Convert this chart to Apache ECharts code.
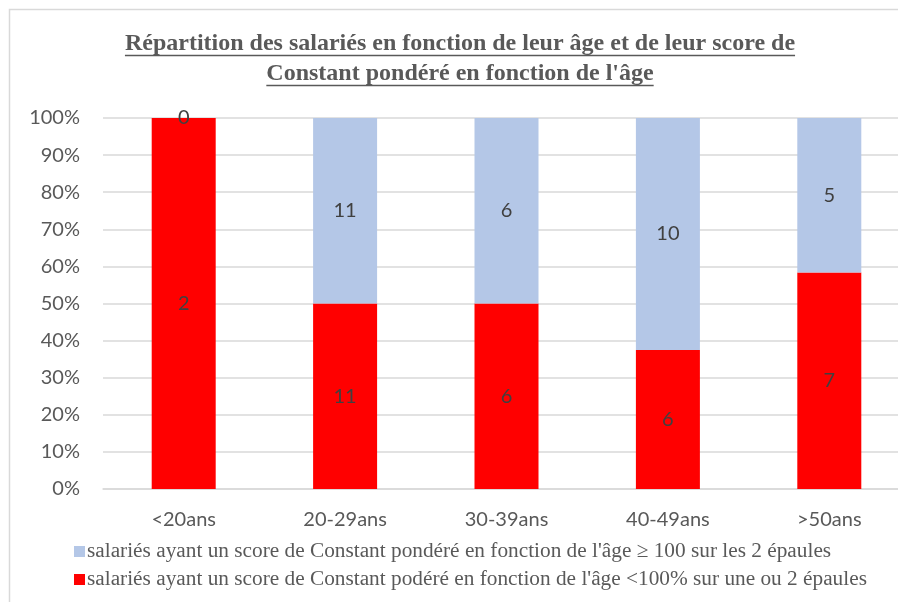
<!DOCTYPE html>
<html>
<head>
<meta charset="utf-8">
<script src="https://cdn.jsdelivr.net/npm/echarts@6/dist/echarts.min.js"></script>
<style>
  html, body { margin: 0; padding: 0; background: #fff; overflow: hidden; }
  #chart { width: 912px; height: 602px; }
</style>
</head>
<body>
<div id="chart"></div>
<script>
const categories = ['<20ans', '20-29ans', '30-39ans', '40-49ans', '>50ans'];
// nombre de salariés par tranche d'âge
const countLow = [2, 11, 6, 6, 7];     // <100% sur une ou 2 épaules
const countHigh = [0, 11, 6, 10, 5];   // >= 100 sur les 2 épaules
const yTicks = [0, 10, 20, 30, 40, 50, 60, 70, 80, 90, 100];

const nameHigh = "salariés ayant un score de Constant pondéré en fonction de l'âge \u2265 100 sur les 2 épaules";
const nameLow = "salariés ayant un score de Constant podéré en fonction de l'âge <100% sur une ou 2 épaules";
const titleLines = [
    "Répartition des salariés en fonction de leur âge et de leur score de",
    "Constant pondéré en fonction de l'âge"
];

// valeurs empilées à 100 %
function pct(a, b) {
    return a.map((v, i) => {
        let tot = a[i] + b[i];
        return tot ? v / tot * 100 : 0;
    });
}
const pctLow = pct(countLow, countHigh);
const pctHigh = pct(countHigh, countLow);

const titleFont = 'bold 24px "Liberation Serif"';
function textWidth(txt, font) {
    let c = document.createElement('canvas').getContext('2d');
    c.font = font;
    return c.measureText(txt).width;
}

let myChart = echarts.init(document.getElementById('chart'), null, { renderer: 'canvas' });

const titleX = 460;
const titleY = [44, 74];
let titleGraphics = [];
titleLines.forEach((t, i) => {
    let w = textWidth(t, titleFont);
    titleGraphics.push({
        type: 'text',
        x: titleX,
        y: titleY[i],
        style: {
            text: t,
            font: titleFont,
            fill: '#595959',
            align: 'center',
            verticalAlign: 'middle'
        }
    });
    titleGraphics.push({
        type: 'line',
        shape: { x1: titleX - w / 2, y1: titleY[i] + 11.5, x2: titleX + w / 2, y2: titleY[i] + 11.5 },
        style: { stroke: '#595959', lineWidth: 1.5 }
    });
});

function labelFor(counts) {
    return {
        show: true,
        position: 'inside',
        fontFamily: 'Lato',
        fontSize: 20,
        color: '#404040',
        formatter: p => counts[p.dataIndex]
    };
}

myChart.setOption({
    animation: false,
    backgroundColor: '#fff',
    graphic: [
        {
            type: 'rect',
            shape: { x: 9.5, y: 9.5, width: 1000, height: 1000 },
            style: { fill: 'none', stroke: '#d9d9d9', lineWidth: 1.5 }
        }
    ].concat(titleGraphics),
    grid: {
        left: 103,
        top: 118,
        right: 2,
        bottom: 113,
        containLabel: false
    },
    legend: {
        orient: 'vertical',
        left: 69,
        top: 536,
        itemWidth: 11,
        itemHeight: 11,
        itemGap: 7,
        icon: 'rect',
        data: [nameHigh, nameLow],
        textStyle: {
            fontFamily: 'Liberation Serif',
            fontSize: 21.3,
            color: '#595959',
            padding: [0, 0, 0, -3]
        }
    },
    xAxis: {
        type: 'category',
        data: categories,
        axisLine: { lineStyle: { color: '#d9d9d9', width: 1.5 } },
        axisTick: { show: false },
        axisLabel: {
            fontFamily: 'Lato',
            fontSize: 20,
            color: '#595959',
            margin: 21
        }
    },
    yAxis: {
        type: 'value',
        min: yTicks[0],
        max: yTicks[yTicks.length - 1],
        interval: 10,
        axisLine: { show: false },
        axisTick: { show: false },
        splitLine: { lineStyle: { color: '#d9d9d9', width: 1.5 } },
        axisLabel: {
            fontFamily: 'Lato',
            fontSize: 20,
            color: '#595959',
            margin: 23,
            formatter: '{value}%'
        }
    },
    series: [
        {
            name: nameLow,
            type: 'bar',
            stack: 'total',
            barWidth: 64,
            itemStyle: { color: '#ff0000' },
            label: labelFor(countLow),
            data: pctLow
        },
        {
            name: nameHigh,
            type: 'bar',
            stack: 'total',
            barWidth: 64,
            itemStyle: { color: '#b4c7e7' },
            label: labelFor(countHigh),
            data: pctHigh
        }
    ]
});
</script>
</body>
</html>
